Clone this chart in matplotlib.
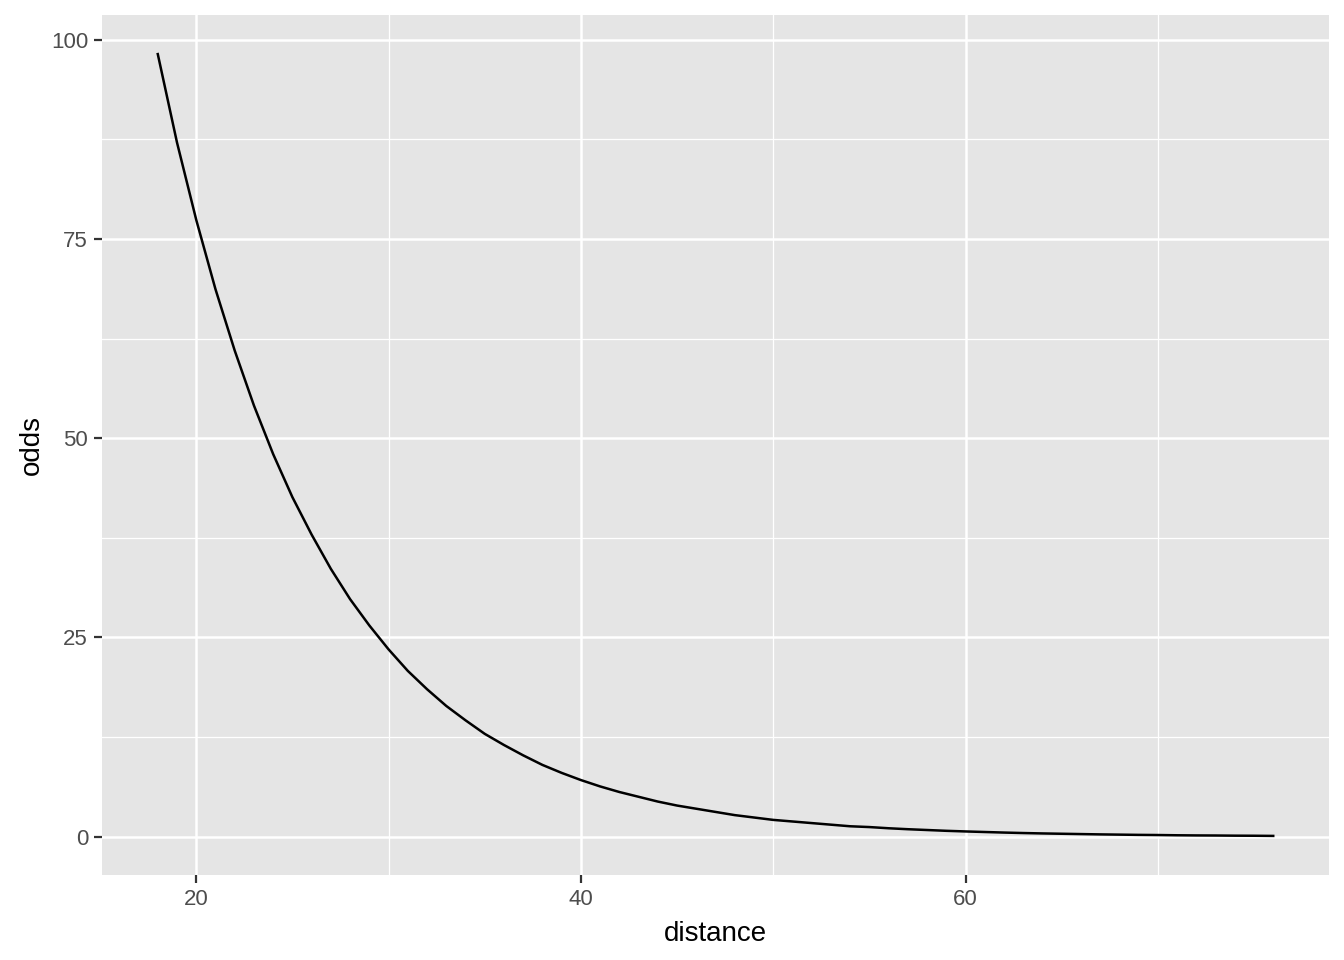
import matplotlib.pyplot as plt
import numpy as np

# valores (uno por unidad de distancia)
distance = list(range(18, 77))
odds = [98.2, 87.1, 77.4, 68.7, 61.0, 54.1, 48.0, 42.6, 37.9, 33.6,
        29.8, 26.5, 23.5, 20.8, 18.5, 16.4, 14.6, 12.9, 11.5, 10.2,
        9.0, 8.0, 7.1, 6.3, 5.6, 5.0, 4.4, 3.9, 3.5, 3.1,
        2.7, 2.4, 2.1, 1.9, 1.7, 1.5, 1.3, 1.2, 1.05, 0.93,
        0.83, 0.73, 0.65, 0.58, 0.51, 0.45, 0.40, 0.36, 0.32, 0.28,
        0.25, 0.22, 0.20, 0.17, 0.15, 0.14, 0.12, 0.11, 0.09]
xticks = [20, 40, 60]
yticks = [0, 25, 50, 75, 100]

plt.rcParams['font.family'] = ['Liberation Sans', 'DejaVu Sans']

fig = plt.figure(figsize=(6.72, 4.8), dpi=200)
ax = fig.add_axes([102/1344, 1 - 875/960, (1329-102)/1344, (875-15)/960])
ax.set_facecolor('#E5E5E5')

# rango con expansion del 5%
xr = max(distance) - min(distance)
yr = max(odds) - min(odds)
ax.set_xlim(min(distance) - 0.05*xr, max(distance) + 0.05*xr)
ax.set_ylim(min(odds) - 0.05*yr, max(odds) + 0.05*yr)

ax.set_xticks(xticks)
ax.set_yticks(yticks)
ax.set_xticks([30, 50, 70], minor=True)
ax.set_yticks([12.5, 37.5, 62.5, 87.5], minor=True)
ax.grid(True, which='major', color='white', linewidth=0.9)
ax.grid(True, which='minor', color='white', linewidth=0.45)
ax.set_axisbelow(True)

ax.plot(distance, odds, color='black', linewidth=0.9)

for s in ax.spines.values():
    s.set_visible(False)
ax.tick_params(which='major', length=3, width=0.8, color='#333333',
               labelcolor='#4D4D4D', labelsize=8, pad=2)
ax.tick_params(which='minor', length=0)

ax.set_xlabel('distance', fontsize=10, color='black', labelpad=4)
ax.set_ylabel('odds', fontsize=10, color='black', labelpad=2)

fig.savefig('out.png', dpi=200)
